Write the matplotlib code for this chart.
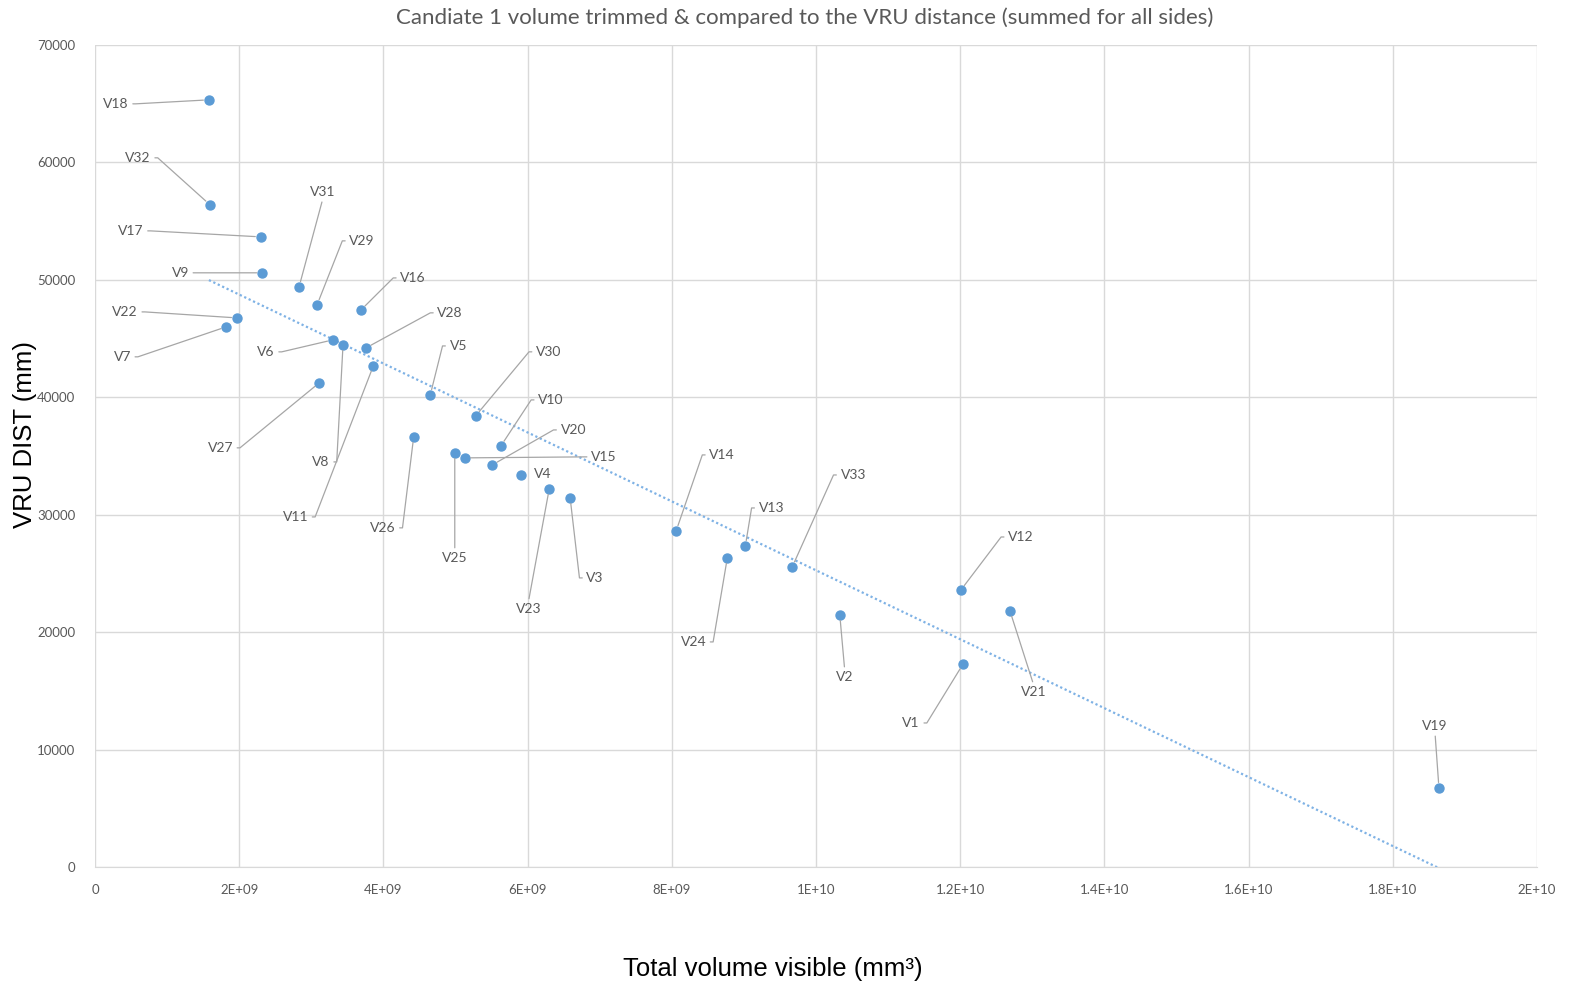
import matplotlib.pyplot as plt
import numpy as np

# Volume visible (mm^3) vs summed VRU distance (mm) per candidate view
names = ['V1', 'V2', 'V3', 'V4', 'V5', 'V6', 'V7', 'V8', 'V9', 'V10', 'V11',
         'V12', 'V13', 'V14', 'V15', 'V16', 'V17', 'V18', 'V19', 'V20', 'V21',
         'V22', 'V23', 'V24', 'V25', 'V26', 'V27', 'V28', 'V29', 'V30', 'V31',
         'V32', 'V33']
volume = [12.04e9, 10.33e9, 6.59e9, 5.91e9, 4.65e9, 3.30e9, 1.82e9, 3.44e9,
          2.32e9, 5.63e9, 3.86e9, 12.01e9, 9.02e9, 8.06e9, 5.13e9, 3.69e9,
          2.30e9, 1.58e9, 18.64e9, 5.51e9, 12.69e9, 1.97e9, 6.30e9, 8.77e9,
          4.99e9, 4.42e9, 3.11e9, 3.76e9, 3.08e9, 5.28e9, 2.83e9, 1.595e9,
          9.67e9]
vru_dist = [17290, 21460, 31430, 33390, 40200, 44890, 46000, 44460, 50600,
            35860, 42670, 23590, 27340, 28620, 34840, 47440, 53660, 65330,
            6730, 34240, 21810, 46760, 32200, 26320, 35260, 36630, 41230,
            44210, 47870, 38420, 49400, 56390, 25550]

x_ticks = np.arange(0, 2.01e10, 2e9)
x_tick_labels = ['0', '2E+09', '4E+09', '6E+09', '8E+09', '1E+10', '1.2E+10',
                 '1.4E+10', '1.6E+10', '1.8E+10', '2E+10']
y_ticks = np.arange(0, 70001, 10000)

# label placement: offset in pixels from the point, and which side the leader leaves the text
label_layout = {
    'V18': (-93, -4, 'r'), 'V32': (-72, 47, 'r'), 'V17': (-130, 6, 'r'),
    'V9': (-82, 0, 'r'), 'V31': (24, 95, 'b'), 'V29': (45, 64, 'l'),
    'V16': (52, 32, 'l'), 'V22': (-112, 6, 'r'), 'V7': (-104, -30, 'r'),
    'V6': (-67, -12, 'r'), 'V28': (84, 35, 'l'), 'V5': (28, 49, 'l'),
    'V8': (-22, -117, 'r'), 'V11': (-78, -151, 'r'), 'V27': (-99, -65, 'r'),
    'V30': (73, 64, 'l'), 'V10': (50, 46, 'l'), 'V20': (81, 35, 'l'),
    'V15': (139, 1, 'l'), 'V4': (22, 1, None), 'V26': (-31, -91, 'r'),
    'V25': (0, -105, 't'), 'V23': (-21, -120, 't'), 'V3': (25, -80, 'l'),
    'V14': (46, 76, 'l'), 'V13': (26, 38, 'l'), 'V33': (61, 92, 'l'),
    'V24': (-34, -84, 'r'), 'V2': (5, -62, 't'), 'V12': (60, 53, 'l'),
    'V21': (24, -81, 't'), 'V1': (-52, -59, 'r'), 'V19': (-4, 62, 'b'),
}

blue = '#5b9bd5'
grey_txt = '#595959'
lead_col = '#a6a6a6'
font = ['Lato', 'DejaVu Sans']

fig = plt.figure(figsize=(15.7, 9.86), dpi=100)
ax = fig.add_axes([95 / 1570, 1 - 867 / 986, (1537 - 95) / 1570, (867 - 45) / 986])

ax.scatter(volume, vru_dist, s=42, color=blue, zorder=3)

# linear trendline over the data range
coef = np.polyfit(volume, vru_dist, 1)
xt = np.array([min(volume), max(volume)])
ax.plot(xt, np.polyval(coef, xt), linestyle=(0, (1, 1.2)), color='#7fb2e5',
        lw=1.6, zorder=2)

for n, xv, yv in zip(names, volume, vru_dist):
    dx, dy, side = label_layout[n]
    if side is None:
        ax.annotate(n, (xv, yv), xytext=(dx, dy), textcoords='offset pixels',
                    ha='center', va='center', fontsize=10, color=grey_txt,
                    family=font)
        continue
    relpos = {'r': (1, 0.5), 'l': (0, 0.5), 'b': (0.5, 0), 't': (0.5, 1)}[side]
    if side == 'r':
        cs = 'arc,angleA=0,armA=7,angleB=0,armB=0,rad=0'
    elif side == 'l':
        cs = 'arc,angleA=180,armA=7,angleB=0,armB=0,rad=0'
    else:
        cs = 'arc3,rad=0'
    ax.annotate(n, (xv, yv), xytext=(dx, dy), textcoords='offset pixels',
                ha='center', va='center', fontsize=10, color=grey_txt,
                family=font,
                arrowprops=dict(arrowstyle='-', color=lead_col, lw=0.9,
                                shrinkA=1, shrinkB=4, relpos=relpos,
                                connectionstyle=cs))

ax.set_xlim(0, 2e10)
ax.set_ylim(0, 70000)
ax.set_xticks(x_ticks)
ax.set_xticklabels(x_tick_labels)
ax.set_yticks(y_ticks)
ax.set_yticklabels([str(v) for v in y_ticks])
ax.grid(True, color='#d9d9d9', lw=1)
ax.set_axisbelow(True)
for s in ['top', 'right', 'left']:
    ax.spines[s].set_visible(False)
ax.spines['bottom'].set_color('#d9d9d9')
ax.tick_params(length=0, labelsize=9.5, labelcolor=grey_txt)
ax.tick_params(axis='x', pad=12)
ax.tick_params(axis='y', pad=14)
for lab in ax.get_xticklabels() + ax.get_yticklabels():
    lab.set_family(font)

fig.text(805 / 1570, 1 - 18 / 986,
         'Candiate 1 volume trimmed & compared to the VRU distance (summed for all sides)',
         ha='center', va='center', fontsize=16, color=grey_txt, family=font)
fig.text(25 / 1570, 1 - 435 / 986, 'VRU DIST (mm)', rotation=90,
         ha='center', va='center', fontsize=18.5, family='Liberation Sans')
fig.text(773 / 1570, 1 - 969 / 986, 'Total volume visible (mm³)',
         ha='center', va='center', fontsize=18.5, family='Liberation Sans')

fig.savefig('out.png', dpi=100)
